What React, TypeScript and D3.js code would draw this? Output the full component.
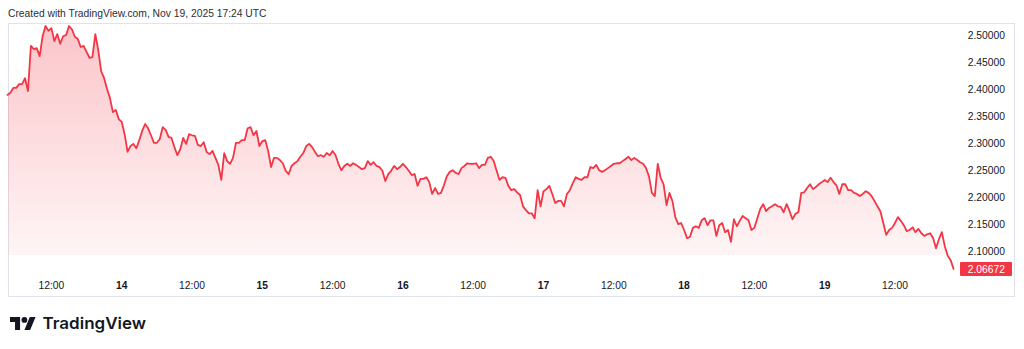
import React from 'react';
import * as d3 from 'd3';

// Close prices, 30-minute bars, starting Nov 13 2025 04:30 (chart time)
const prices: number[] = [
  2.390, 2.394, 2.403, 2.403, 2.410, 2.410, 2.421, 2.397, 2.481, 2.475,
  2.477, 2.462, 2.499, 2.518, 2.509, 2.514, 2.490, 2.503, 2.485, 2.499,
  2.501, 2.518, 2.512, 2.498, 2.494, 2.479, 2.481, 2.470, 2.459, 2.460,
  2.503, 2.473, 2.434, 2.421, 2.401, 2.384, 2.358, 2.362, 2.345, 2.340,
  2.317, 2.284, 2.295, 2.299, 2.291, 2.306, 2.323, 2.336, 2.328, 2.315,
  2.301, 2.301, 2.308, 2.330, 2.325, 2.312, 2.310, 2.293, 2.278, 2.289,
  2.310, 2.299, 2.317, 2.315, 2.314, 2.297, 2.295, 2.302, 2.284, 2.280,
  2.286, 2.273, 2.260, 2.232, 2.282, 2.267, 2.262, 2.273, 2.301, 2.301,
  2.306, 2.306, 2.328, 2.330, 2.315, 2.323, 2.295, 2.304, 2.306, 2.286,
  2.256, 2.273, 2.273, 2.269, 2.263, 2.249, 2.243, 2.258, 2.263, 2.267,
  2.275, 2.282, 2.295, 2.299, 2.293, 2.284, 2.276, 2.278, 2.275, 2.282,
  2.278, 2.286, 2.278, 2.262, 2.250, 2.258, 2.262, 2.258, 2.263, 2.260,
  2.256, 2.252, 2.254, 2.267, 2.260, 2.265, 2.258, 2.256, 2.249, 2.230,
  2.243, 2.249, 2.258, 2.252, 2.256, 2.262, 2.256, 2.249, 2.241, 2.243,
  2.221, 2.234, 2.234, 2.237, 2.228, 2.206, 2.217, 2.206, 2.208, 2.222,
  2.239, 2.247, 2.250, 2.245, 2.243, 2.254, 2.258, 2.263, 2.262, 2.262,
  2.263, 2.254, 2.260, 2.260, 2.273, 2.275, 2.267, 2.249, 2.232, 2.237,
  2.236, 2.221, 2.213, 2.215, 2.209, 2.204, 2.183, 2.176, 2.170, 2.170,
  2.161, 2.213, 2.183, 2.211, 2.215, 2.221, 2.206, 2.189, 2.193, 2.193,
  2.183, 2.206, 2.213, 2.226, 2.237, 2.234, 2.232, 2.237, 2.237, 2.256,
  2.254, 2.260, 2.250, 2.247, 2.250, 2.254, 2.258, 2.262, 2.263, 2.263,
  2.267, 2.271, 2.275, 2.269, 2.273, 2.269, 2.265, 2.262, 2.254, 2.239,
  2.208, 2.202, 2.262, 2.236, 2.224, 2.185, 2.208, 2.193, 2.163, 2.150,
  2.152, 2.139, 2.124, 2.126, 2.143, 2.146, 2.143, 2.157, 2.161, 2.148,
  2.157, 2.157, 2.128, 2.148, 2.152, 2.135, 2.139, 2.117, 2.159, 2.146,
  2.156, 2.165, 2.161, 2.157, 2.139, 2.143, 2.161, 2.178, 2.187, 2.174,
  2.180, 2.183, 2.187, 2.183, 2.182, 2.172, 2.187, 2.174, 2.159, 2.169,
  2.172, 2.208, 2.209, 2.217, 2.224, 2.215, 2.219, 2.224, 2.228, 2.232,
  2.228, 2.236, 2.228, 2.222, 2.206, 2.224, 2.224, 2.213, 2.213, 2.208,
  2.206, 2.202, 2.206, 2.211, 2.208, 2.202, 2.193, 2.183, 2.174, 2.152,
  2.130, 2.139, 2.143, 2.152, 2.163, 2.156, 2.148, 2.137, 2.139, 2.144,
  2.135, 2.141, 2.133, 2.128, 2.131, 2.133, 2.124, 2.105, 2.122, 2.135,
  2.109, 2.091, 2.083, 2.06672,
];

const startTime = Date.UTC(2025, 10, 13, 4, 30);
const stepMinutes = 30;

const yTicks: number[] = [2.1, 2.15, 2.2, 2.25, 2.3, 2.35, 2.4, 2.45, 2.5];

const xTickTimes: number[] = [
  Date.UTC(2025, 10, 13, 12), Date.UTC(2025, 10, 14, 0),
  Date.UTC(2025, 10, 14, 12), Date.UTC(2025, 10, 15, 0),
  Date.UTC(2025, 10, 15, 12), Date.UTC(2025, 10, 16, 0),
  Date.UTC(2025, 10, 16, 12), Date.UTC(2025, 10, 17, 0),
  Date.UTC(2025, 10, 17, 12), Date.UTC(2025, 10, 18, 0),
  Date.UTC(2025, 10, 18, 12), Date.UTC(2025, 10, 19, 0),
  Date.UTC(2025, 10, 19, 12),
];

const headerText = 'Created with TradingView.com, Nov 19, 2025 17:24 UTC';
const brandText = 'TradingView';

const RED = '#F23645';
const TEXT = '#131722';
const FONT = '"Liberation Sans", Arial, sans-serif';

export default function App() {
  const W = 1024;
  const H = 349;

  const x = d3
    .scaleUtc()
    .domain([new Date(Date.UTC(2025, 10, 14)), new Date(Date.UTC(2025, 10, 19))])
    .range([121.7, 824.7]);
  const y = d3.scaleLinear().domain([2.1, 2.5]).range([251, 35.7]);

  const data = prices.map((p, i) => ({ t: new Date(startTime + i * stepMinutes * 60000), p }));
  const fillBottom = 255;

  const line = d3
    .line<{ t: Date; p: number }>()
    .x((d) => x(d.t))
    .y((d) => y(d.p));
  const area = d3
    .area<{ t: Date; p: number }>()
    .x((d) => x(d.t))
    .y0(fillBottom)
    .y1((d) => y(d.p));

  const last = prices[prices.length - 1];
  const lastY = y(last);
  const fmtHour = d3.utcFormat('%H:%M');

  return (
    <svg
      width={W}
      height={H}
      viewBox={`0 0 ${W} ${H}`}
      style={{ position: 'absolute', left: 0, top: 0, display: 'block', background: '#fff' }}
    >
      <defs>
        <linearGradient id="areaGrad" gradientUnits="userSpaceOnUse" x1="0" y1="25" x2="0" y2={fillBottom}>
          <stop offset="0" stopColor={RED} stopOpacity={0.29} />
          <stop offset="1" stopColor={RED} stopOpacity={0.05} />
        </linearGradient>
        <clipPath id="fillClip">
          <rect x={8} y={23} width={950} height={fillBottom - 23} />
        </clipPath>
      </defs>
      <rect x={0} y={0} width={W} height={H} fill="#fff" />

      <text x={8} y={17} fontFamily={FONT} fontSize={10.3} fill="#2A2E39">
        {headerText}
      </text>

      <rect x={8.5} y={23.5} width={1006} height={273} fill="none" stroke="#E0E3EB" strokeWidth={1} />

      <path d={area(data) || ''} fill="url(#areaGrad)" clipPath="url(#fillClip)" />
      <path d={line(data) || ''} fill="none" stroke={RED} strokeWidth={1.8} strokeLinejoin="round" strokeLinecap="round" />

      {yTicks.map((v) => (
        <text
          key={v}
          x={1005}
          y={y(v)}
          dy="0.36em"
          textAnchor="end"
          fontFamily={FONT}
          fontSize={10.3}
          fill={TEXT}
        >
          {v.toFixed(5)}
        </text>
      ))}

      <rect x={960} y={lastY - 7} width={52} height={14} fill={RED} rx={1} />
      <text x={1005} y={lastY} dy="0.36em" textAnchor="end" fontFamily={FONT} fontSize={10.3} fill="#fff">
        {last.toFixed(5)}
      </text>

      {xTickTimes.map((t) => {
        const d = new Date(t);
        const isDay = d.getUTCHours() === 0;
        return (
          <text
            key={t}
            x={x(d)}
            y={289}
            textAnchor="middle"
            fontFamily={FONT}
            fontSize={10.3}
            fontWeight={isDay ? 700 : 400}
            fill={TEXT}
          >
            {isDay ? String(d.getUTCDate()) : fmtHour(d)}
          </text>
        );
      })}

      <g transform="translate(10,314.2) scale(0.72)" fill={TEXT}>
        <path d="M14 22H7V11H0V4h14v18zM28 22h-8l7.5-18h8L28 22z" />
        <circle cx={20} cy={8} r={4} />
      </g>
      <text
        x={42.5}
        y={328.5}
        fontFamily="Inter, 'Noto Sans', sans-serif"
        fontWeight={600}
        fontSize={16.3}
        textLength={103.5}
        lengthAdjust="spacingAndGlyphs"
        fill={TEXT}
      >
        {brandText}
      </text>
    </svg>
  );
}
